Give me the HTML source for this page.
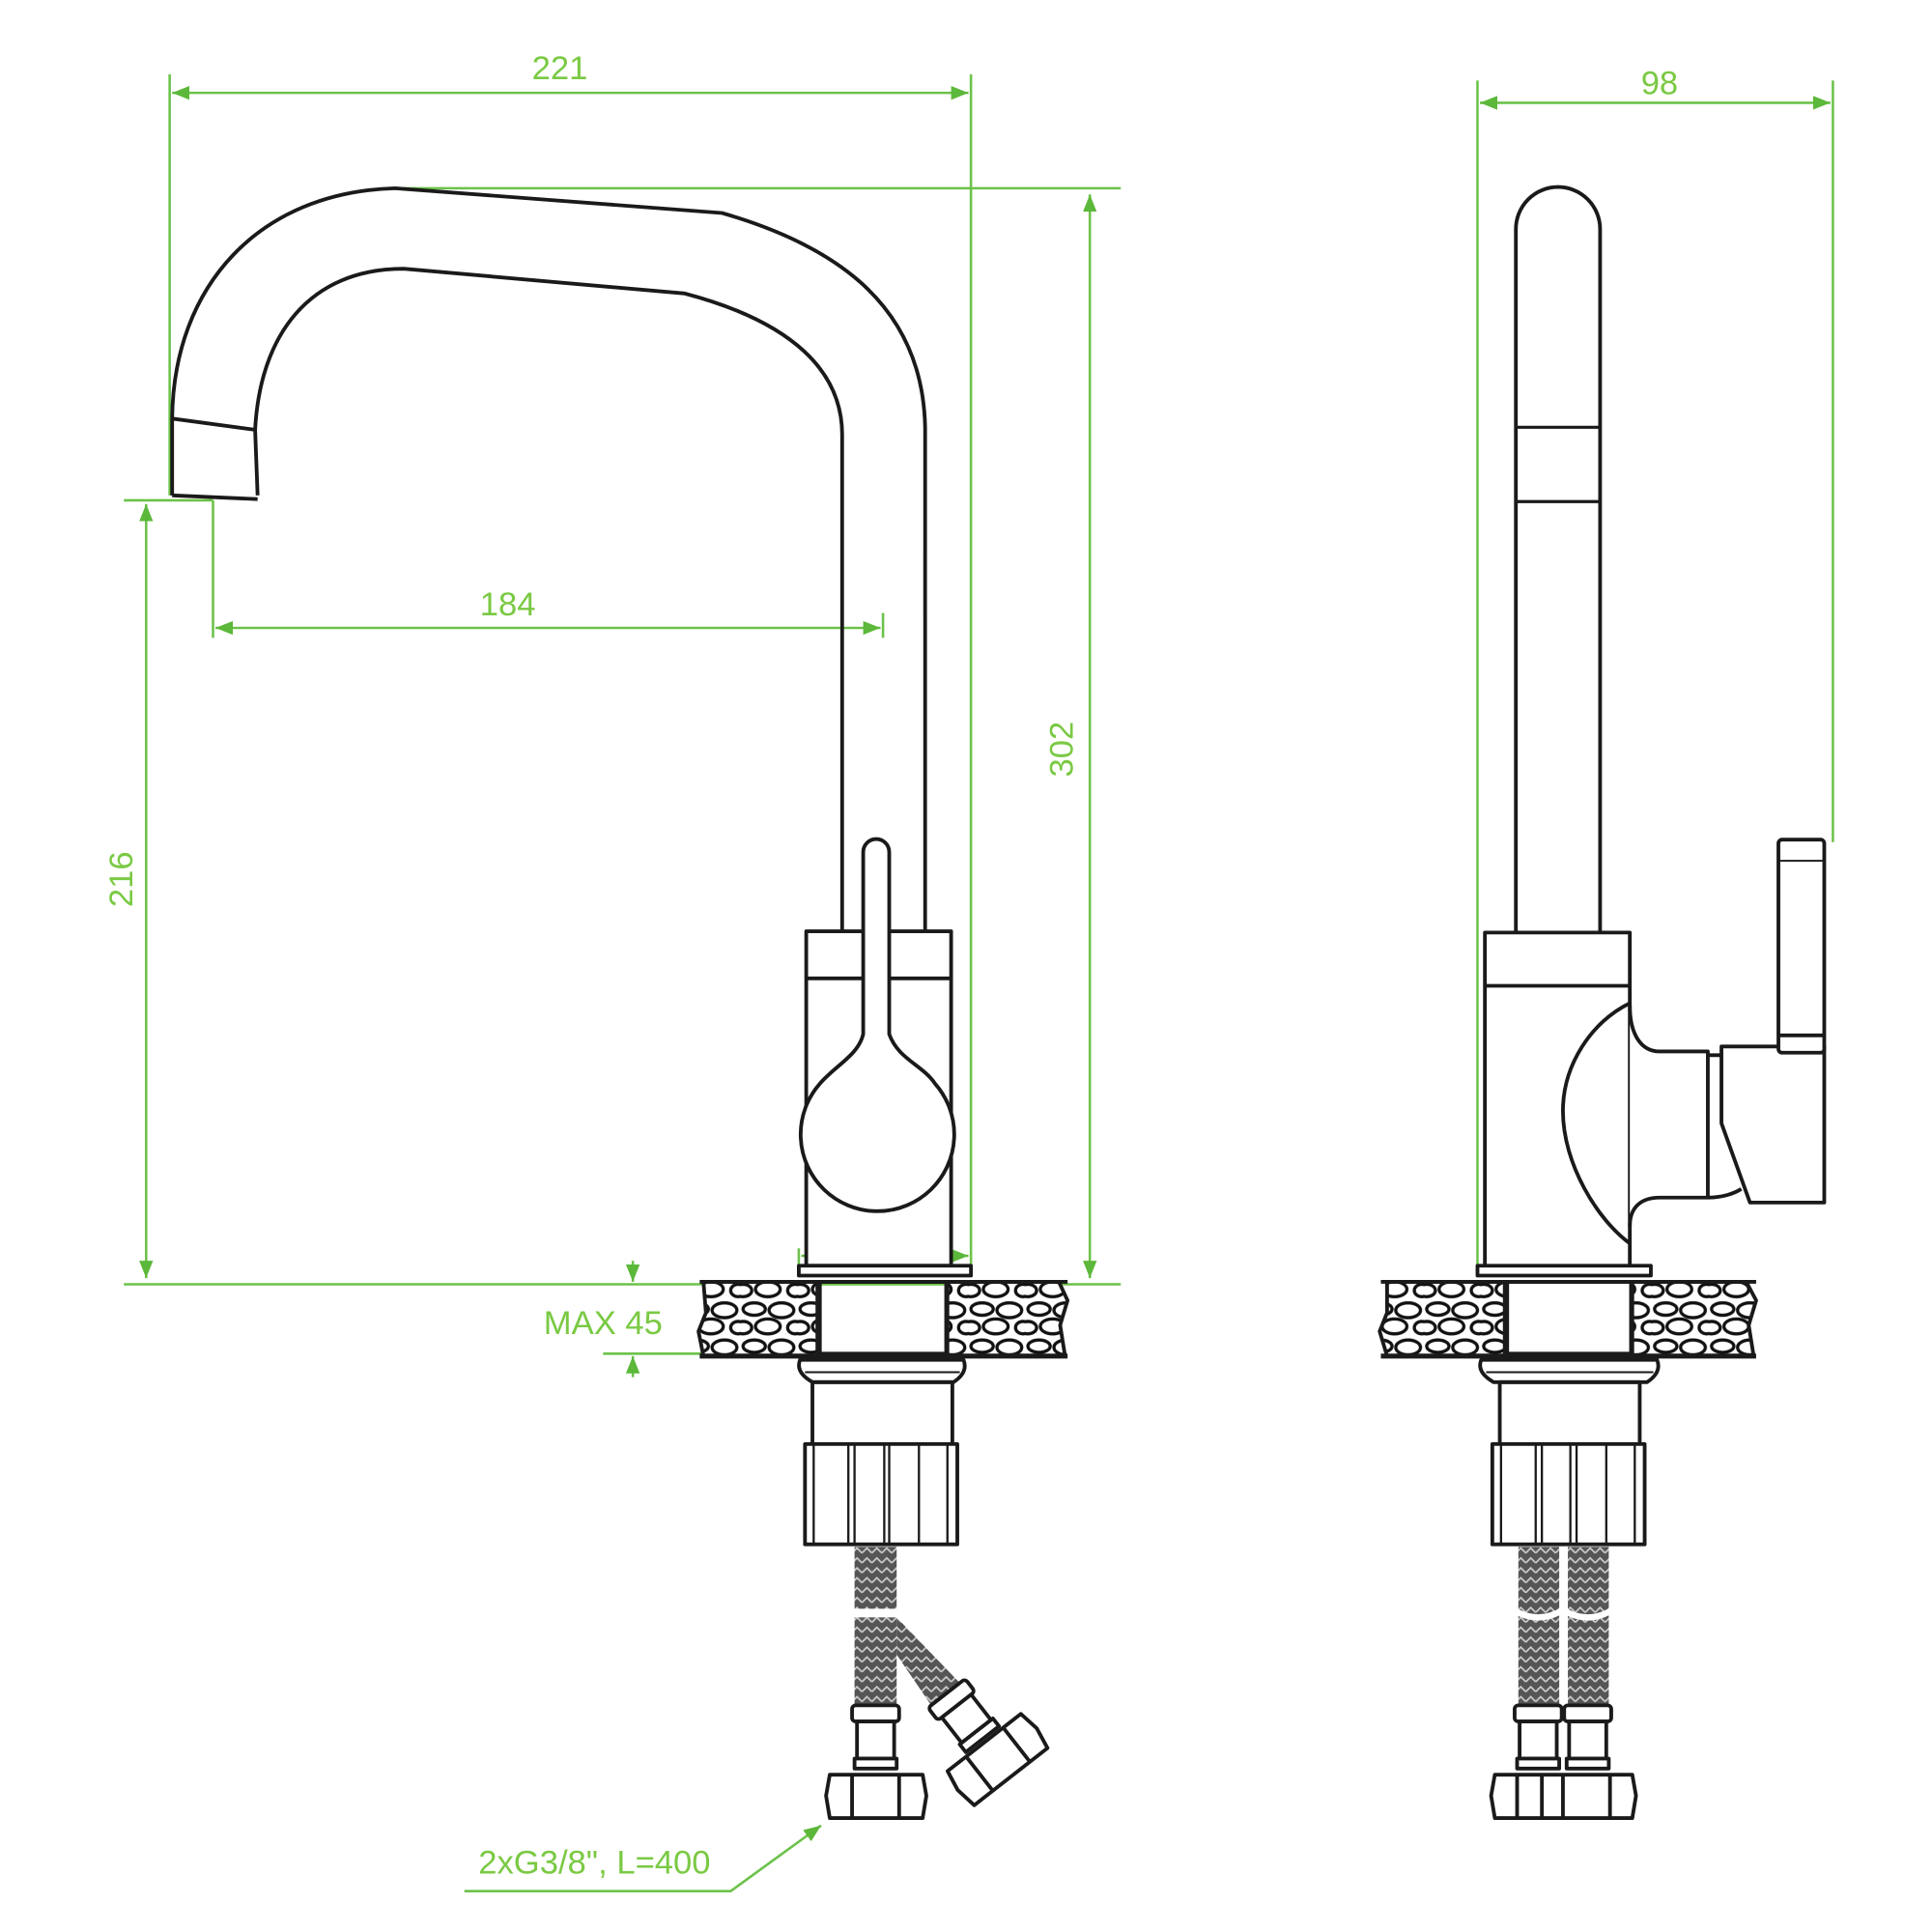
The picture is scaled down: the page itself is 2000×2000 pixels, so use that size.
<!DOCTYPE html>
<html><head><meta charset="utf-8"><style>html,body{margin:0;padding:0;background:#fff}svg{display:block}</style></head>
<body>
<svg width="2000" height="2000" viewBox="0 0 1560 1560" xmlns="http://www.w3.org/2000/svg">
<defs>
<pattern id="peb" width="46" height="30" patternUnits="userSpaceOnUse">
<rect width="46" height="30" fill="#fff"/>
<g fill="#fff" stroke="#111" stroke-width="2.6">
<ellipse cx="11" cy="7" rx="9" ry="5"/><ellipse cx="33" cy="8" rx="10" ry="6"/>
<ellipse cx="22" cy="21" rx="10" ry="6"/><ellipse cx="2" cy="22" rx="7" ry="5"/><ellipse cx="44" cy="22" rx="6" ry="5"/>
</g></pattern>
<pattern id="braid" width="8" height="8" patternUnits="userSpaceOnUse">
<rect width="8" height="8" fill="#555"/><path d="M0 6 L4 2 L8 6" stroke="#ccc" stroke-width="1.3" fill="none"/>
</pattern>
<marker id="ar" viewBox="0 0 10 10" refX="10" refY="5" markerWidth="7" markerHeight="7" orient="auto-start-reverse"><path d="M0 1 L10 5 L0 9 z" fill="#5cb83a"/></marker>
</defs>

<g stroke="#6cc24a" stroke-width="2" fill="none">
<line x1="137" y1="60" x2="137" y2="400"/><line x1="784" y1="60" x2="784" y2="1030"/>
<line x1="139" y1="75" x2="782" y2="75" marker-start="url(#ar)" marker-end="url(#ar)"/>
<line x1="320" y1="152" x2="905" y2="152"/>
<line x1="880" y1="157" x2="880" y2="1032" marker-start="url(#ar)" marker-end="url(#ar)"/>
<line x1="100" y1="1037" x2="905" y2="1037"/>
<line x1="100" y1="404" x2="172" y2="404"/>
<line x1="118" y1="407" x2="118" y2="1032" marker-start="url(#ar)" marker-end="url(#ar)"/>
<line x1="172" y1="404" x2="172" y2="515"/><line x1="713" y1="495" x2="713" y2="515"/>
<line x1="174" y1="507" x2="711" y2="507" marker-start="url(#ar)" marker-end="url(#ar)"/>
<line x1="645" y1="1008" x2="645" y2="1030"/>
<line x1="647" y1="1014" x2="782" y2="1014" marker-start="url(#ar)" marker-end="url(#ar)"/>
<line x1="511" y1="1018" x2="511" y2="1035" marker-end="url(#ar)"/>
<line x1="487" y1="1093" x2="600" y2="1093"/>
<line x1="511" y1="1112" x2="511" y2="1095" marker-end="url(#ar)"/>
<polyline points="375,1527 590,1527 663,1474" marker-end="url(#ar)"/>
<line x1="1193" y1="65" x2="1193" y2="1030"/><line x1="1480" y1="65" x2="1480" y2="680"/>
<line x1="1195" y1="83" x2="1478" y2="83" marker-start="url(#ar)" marker-end="url(#ar)"/>
</g>
<g fill="#7ac943" font-family="Liberation Sans, sans-serif" font-size="27" text-anchor="middle">
<text x="452" y="64">221</text>
<text x="1340" y="76">98</text>
<text x="410" y="497">184</text>
<text x="710" y="1007">ø48</text>
<text x="487" y="1077">MAX 45</text>
<text x="480" y="1513">2xG3/8", L=400</text>
<text transform="translate(866,605) rotate(-90)">302</text>
<text transform="translate(107,710) rotate(-90)">216</text>
</g>

<g stroke="#1a1a1a" stroke-width="3" fill="none" stroke-linejoin="round">
<path d="M139 400 L139 338 C140 230 210 155 319 152 L583 172 C680 200 745 250 747 345 L747 752"/>
<path d="M208 400 L206 347 C210 270 250 217 326 217 L553 237 C640 260 680 300 680 351 L680 752"/>
<path d="M139 400 L208 403 M139 338 L206 347"/>
<rect x="651" y="752" width="117" height="270" fill="#fff"/>
<line x1="651" y1="790" x2="697" y2="790"/><line x1="718" y1="790" x2="768" y2="790"/>
<path d="M697 835 L697 688 A10.5 10.5 0 0 1 718 688 L718 835 C725 855 745 860 755 875 A62 62 0 1 1 662 875 C675 860 693 852 697 835 Z" fill="#fff"/>
<rect x="645" y="1022" width="139" height="8" fill="#fff"/>
<path d="M568 1035 L660 1035 L660 1095 L568 1095 L564 1075 L570 1060 Z" fill="url(#peb)"/>
<path d="M765 1035 L855 1035 L862 1050 L856 1070 L860 1095 L765 1095 Z" fill="url(#peb)"/>
<rect x="662" y="1035" width="102" height="58"/>
<line x1="565" y1="1035" x2="862" y2="1035"/><line x1="565" y1="1095" x2="862" y2="1095" stroke-width="4"/>
<path d="M646 1098 L778 1098 Q782 1108 770 1116 L656 1116 Q642 1108 646 1098 Z"/>
<line x1="650" y1="1108" x2="775" y2="1108" stroke-width="1.5"/>
<rect x="656" y="1116" width="113" height="50"/>
<rect x="650" y="1166" width="123" height="81" fill="#fff"/>
<path d="M657 1166 V1247 M685 1166 V1247 M690 1166 V1247 M714 1166 V1247 M718 1166 V1247 M742 1166 V1247 M765 1166 V1247" stroke-width="1.8"/>
<rect x="690" y="1249" width="34" height="50" fill="url(#braid)" stroke="none"/>
<rect x="690" y="1306" width="34" height="76" fill="url(#braid)" stroke="none"/>
<path d="M724 1306 L778 1362 L754 1380 L724 1336 Z" fill="url(#braid)" stroke="none"/>
<rect x="688" y="1377" width="38" height="13" rx="3" fill="#fff"/>
<rect x="692" y="1390" width="30" height="30" fill="#fff"/>
<rect x="690" y="1420" width="34" height="8" fill="#fff"/>
<path d="M670 1433 L745 1433 L748 1450 L745 1468 L670 1468 L667 1450 Z" fill="#fff"/>
<path d="M688 1433 V1468 M726 1433 V1468"/>
<g transform="translate(768,1372) rotate(-38)">
<rect x="-19" y="-6" width="38" height="13" rx="3" fill="#fff"/>
<rect x="-15" y="7" width="30" height="26" fill="#fff"/>
<rect x="-17" y="33" width="34" height="8" fill="#fff"/>
<path d="M-38 44 L37 44 L40 61 L37 79 L-38 79 L-41 61 Z" fill="#fff"/>
<path d="M-19 44 V79 M19 44 V79"/>
</g>

<path d="M1224 755 L1224 185 A34 34 0 0 1 1292 185 L1292 755"/>
<path d="M1224 345 H1292 M1224 405 H1292" stroke-width="2.5"/>
<rect x="1199" y="753" width="117" height="272" fill="#fff"/>
<line x1="1199" y1="796" x2="1316" y2="796"/>
<path d="M1316 810 C1285 825 1262 860 1262 897 C1262 940 1290 985 1316 1004" />
<path d="M1316 812 C1316 835 1325 849 1340 849 L1379 849 L1379 967 L1340 967 C1325 967 1316 975 1316 990" fill="#fff"/>
<path d="M1379 852 H1390 M1379 967 C1390 967 1400 964 1406 960"/>
<path d="M1390 845 L1473 845 L1473 971 L1413 971 L1390 907 Z" fill="#fff"/>
<rect x="1436" y="678" width="37" height="172" rx="3" fill="#fff"/>
<line x1="1436" y1="836" x2="1473" y2="836"/><line x1="1436" y1="695" x2="1473" y2="695" stroke-width="1.5"/>
<rect x="1193" y="1022" width="140" height="8" fill="#fff"/>
<path d="M1120 1035 L1215 1035 L1215 1095 L1120 1095 L1114 1075 L1120 1060 Z" fill="url(#peb)"/>
<path d="M1318 1035 L1410 1035 L1418 1050 L1412 1070 L1416 1095 L1318 1095 Z" fill="url(#peb)"/>
<rect x="1217" y="1035" width="100" height="58"/>
<line x1="1115" y1="1035" x2="1418" y2="1035"/><line x1="1115" y1="1095" x2="1418" y2="1095" stroke-width="4"/>
<path d="M1196 1098 L1338 1098 Q1342 1108 1330 1116 L1206 1116 Q1192 1108 1196 1098 Z"/>
<line x1="1200" y1="1108" x2="1335" y2="1108" stroke-width="1.5"/>
<rect x="1211" y="1116" width="113" height="50"/>
<rect x="1205" y="1166" width="123" height="81" fill="#fff"/>
<path d="M1212 1166 V1247 M1240 1166 V1247 M1245 1166 V1247 M1268 1166 V1247 M1273 1166 V1247 M1297 1166 V1247 M1320 1166 V1247" stroke-width="1.8"/>
<rect x="1226" y="1249" width="33" height="128" fill="url(#braid)" stroke="none"/>
<rect x="1266" y="1249" width="33" height="128" fill="url(#braid)" stroke="none"/>
<path d="M1222 1300 Q1242 1312 1262 1300 Q1282 1312 1302 1300" stroke="#fff" stroke-width="5"/>
<rect x="1223" y="1377" width="38" height="13" rx="3" fill="#fff"/><rect x="1263" y="1377" width="38" height="13" rx="3" fill="#fff"/>
<rect x="1227" y="1390" width="30" height="30" fill="#fff"/><rect x="1267" y="1390" width="30" height="30" fill="#fff"/>
<rect x="1225" y="1420" width="34" height="8" fill="#fff"/><rect x="1265" y="1420" width="34" height="8" fill="#fff"/>
<path d="M1207 1433 L1318 1433 L1321 1450 L1318 1468 L1207 1468 L1204 1450 Z" fill="#fff"/>
<path d="M1225 1433 V1468 M1245 1433 V1468 M1262 1433 V1468 M1300 1433 V1468"/>
</g>
</svg>
</body></html>
